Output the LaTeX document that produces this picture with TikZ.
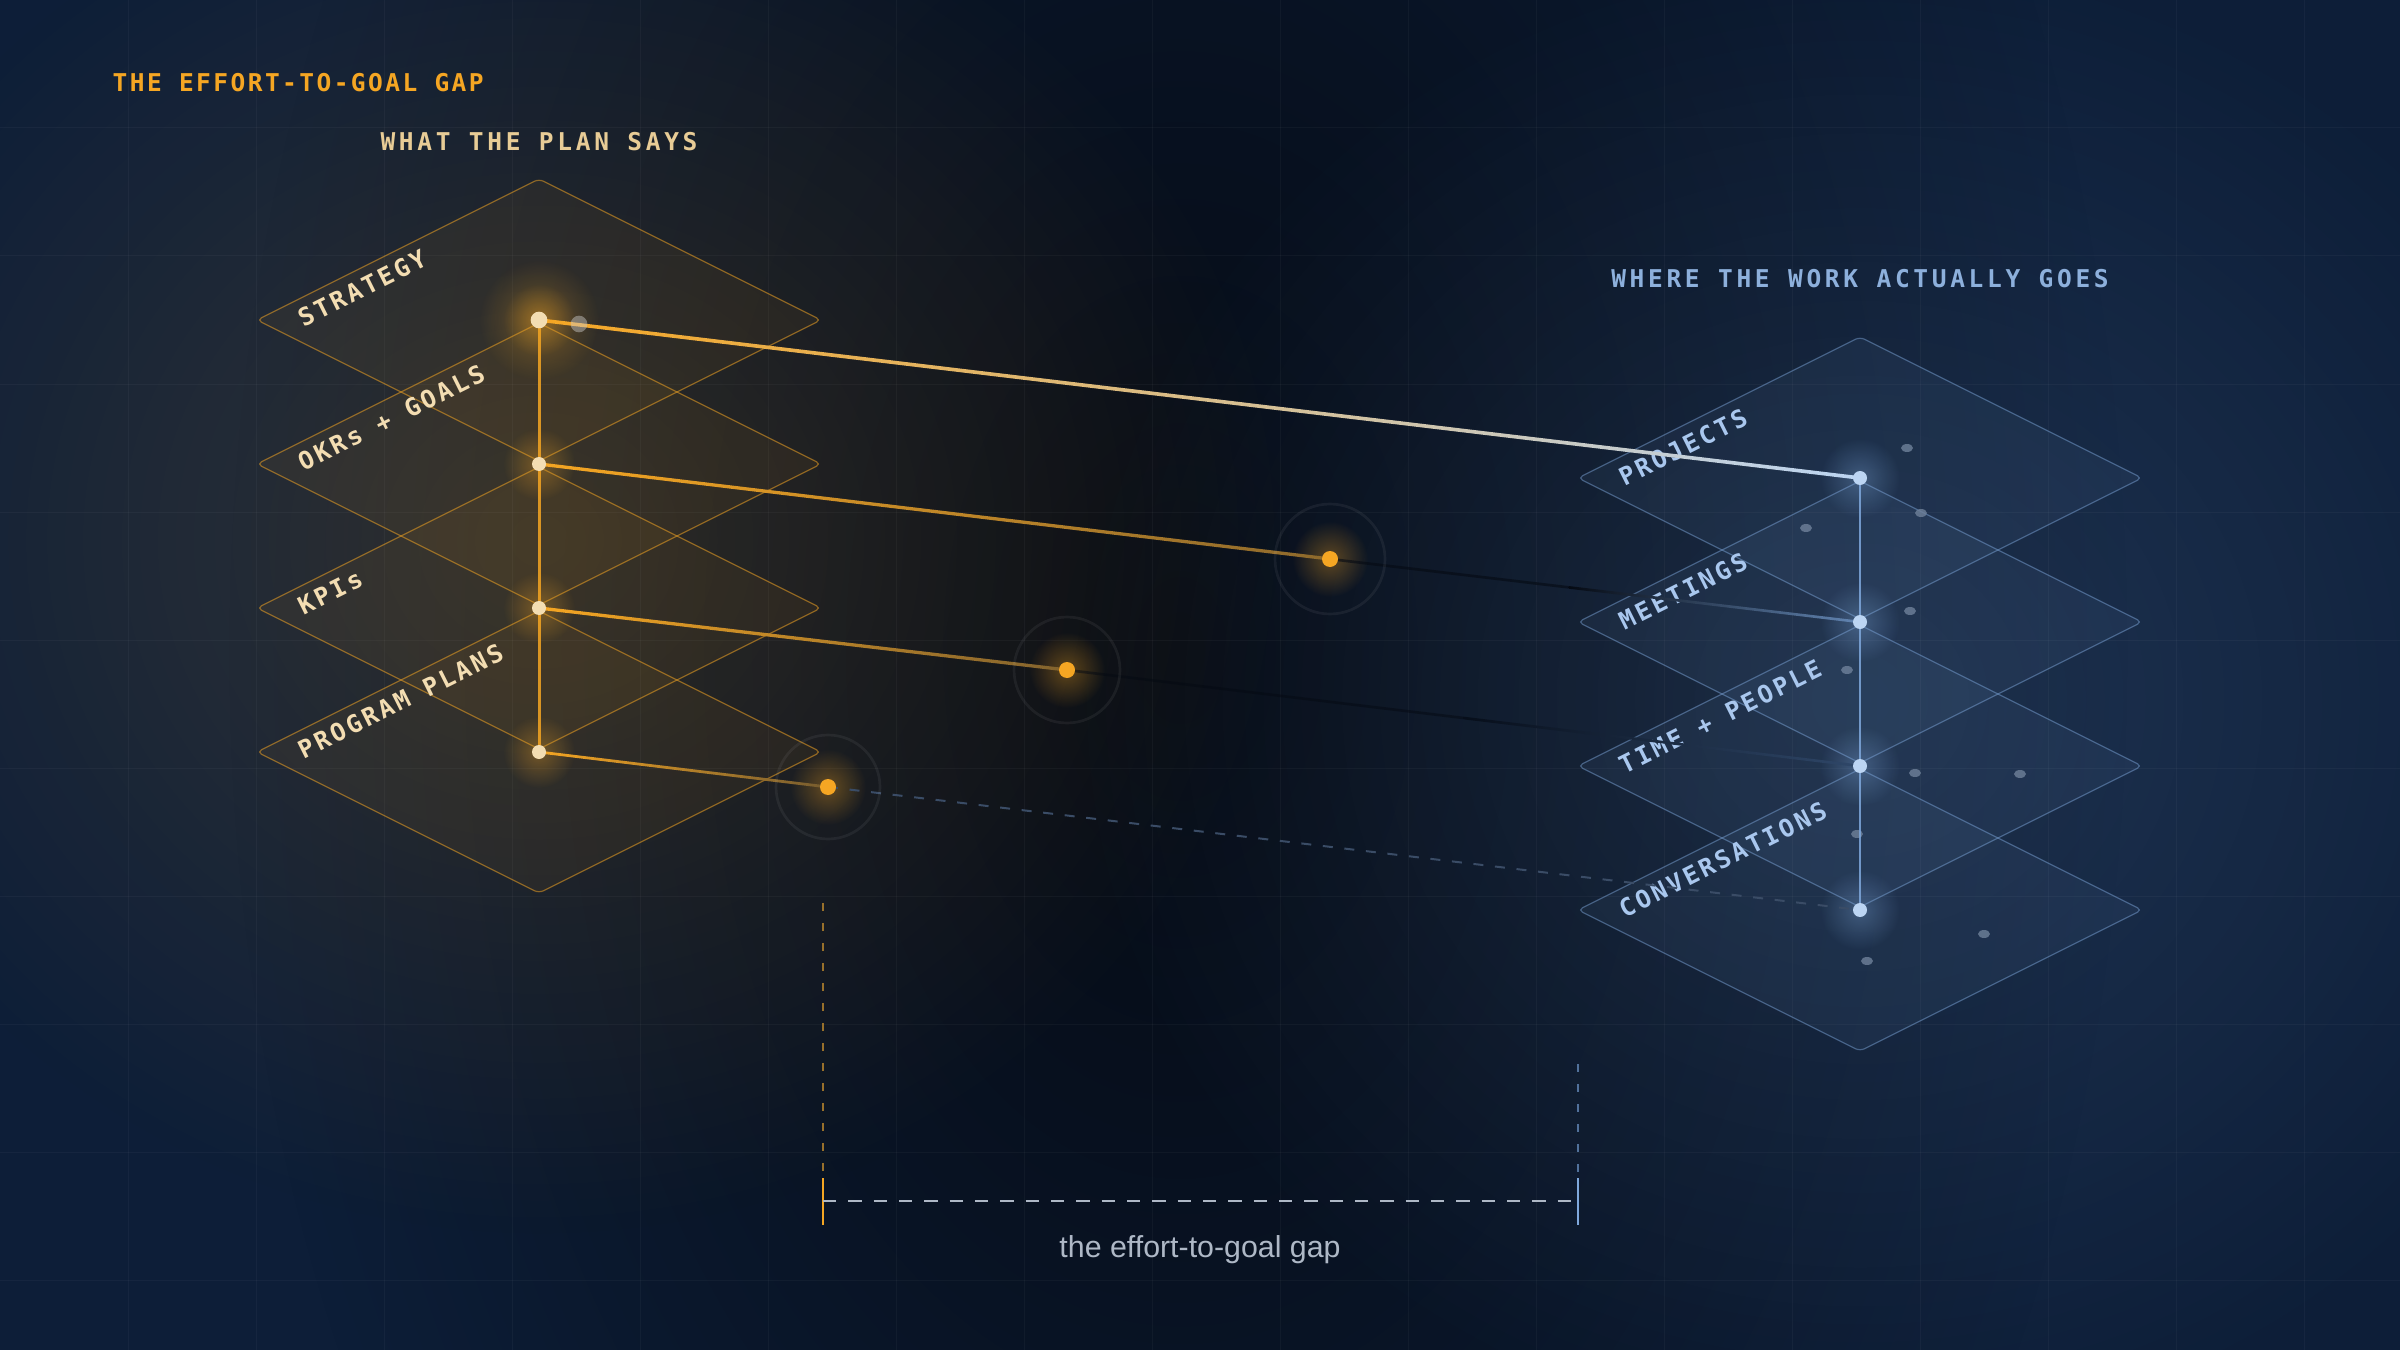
\documentclass[tikz,border=0pt]{standalone}
\usepackage{fontspec}
\usetikzlibrary{calc,fadings}

\newfontfamily\titlefont[LetterSpace=10]{DejaVu Sans Mono}
\newfontfamily\capsfont[LetterSpace=15]{DejaVu Sans Mono}
\newfontfamily\layerfont[LetterSpace=12]{DejaVu Sans Mono}
\newfontfamily\notefont{Liberation Sans}

\definecolor{bgnavy}{HTML}{0D1E38}
\definecolor{bgdeep}{HTML}{050A13}
\definecolor{amber}{HTML}{F5A623}
\definecolor{cream}{HTML}{F3DDB2}
\definecolor{sand}{HTML}{E8CC96}
\definecolor{steel}{HTML}{7FA8DC}
\definecolor{ice}{HTML}{BCD5F3}
\definecolor{mist}{HTML}{8DB0DC}
\definecolor{frost}{HTML}{A9C7EE}
\definecolor{fog}{HTML}{AEB8C6}
\definecolor{dusk}{HTML}{6F819A}
\definecolor{slate}{HTML}{3A4C66}

\tikzfading[name=glowfade, inner color=transparent!0, outer color=transparent!100]

\tikzset{
  grid line/.style={white, opacity=0.035, line width=0.3pt},
  plan plate/.style={draw=amber, draw opacity=0.5, fill=amber, fill opacity=0.06, line width=0.36pt, rounded corners=1.5pt},
  work plate/.style={draw=steel, draw opacity=0.45, fill=steel, fill opacity=0.07, line width=0.36pt, rounded corners=1.5pt},
  plan label/.style={font=\layerfont\bfseries\fontsize{7.4}{8}\selectfont, text=cream, rotate=26.57, anchor=base west, inner sep=0pt},
  work label/.style={font=\layerfont\bfseries\fontsize{7.4}{8}\selectfont, text=frost, rotate=26.57, anchor=base west, inner sep=0pt},
  head/.style={font=\capsfont\bfseries\fontsize{7.35}{8}\selectfont, inner sep=0pt},
  plan dot/.style={circle, fill=cream, inner sep=0pt, minimum size=4.2pt},
  work dot/.style={circle, fill=ice, inner sep=0pt, minimum size=4.2pt},
  drift dot/.style={circle, fill=amber, inner sep=0pt, minimum size=4.8pt},
  drift ring/.style={draw=white, draw opacity=0.06, line width=0.8pt},
  speck/.style={fill=dusk, fill opacity=0.8},
}

\begin{document}
\begin{tikzpicture}[x=0.3pt, y=-0.3pt]
  \useasboundingbox (0,0) rectangle (2400,1350);

  % backdrop
  \fill[bgnavy] (0,0) rectangle (2400,1350);
  \fill[bgdeep, path fading=glowfade] (1180,650) ellipse (950 and 1500);
  \fill[amber, opacity=0.16, path fading=glowfade] (539,540) ellipse (760 and 700);
  \fill[steel, opacity=0.16, path fading=glowfade] (1860,700) ellipse (800 and 760);
  \foreach \gx in {128,256,...,2304}
    {
      \draw[grid line] (\gx,0) -- (\gx,1350);
    }
  \foreach \gy in {128,256,...,1280}
    {
      \draw[grid line] (0,\gy) -- (2400,\gy);
    }

  % headings
  \node[head, font=\titlefont\bfseries\fontsize{7.35}{8}\selectfont, text=amber, anchor=west] (title) at (112,83) {THE EFFORT-TO-GOAL GAP};
  \node[head, text=sand] (plantitle) at (539,142) {WHAT THE PLAN SAYS};
  \node[head, text=mist] (worktitle) at (1860,279) {WHERE THE WORK ACTUALLY GOES};

  % the plan stack
  \foreach \y in {752,608,464,320}
    {
      \draw[plan plate] (539,\y) ++(-282,0) -- ++(282,-141) -- ++(282,141) -- ++(-282,141) -- cycle;
    }
  % the work stack
  \foreach \y in {910,766,622,478}
    {
      \draw[work plate] (1860,\y) ++(-282,0) -- ++(282,-141) -- ++(282,141) -- ++(-282,141) -- cycle;
    }

  \node[plan label] (l1) at (303,328) {STRATEGY};
  \node[plan label] (l2) at (303,472) {OKRs + GOALS};
  \node[plan label] (l3) at (303,616) {KPIs};
  \node[plan label] (l4) at (303,760) {PROGRAM PLANS};

  \node[work label] (r1) at (1624,487) {PROJECTS};
  \node[work label] (r2) at (1624,631) {MEETINGS};
  \node[work label] (r3) at (1624,775) {TIME + PEOPLE};
  \node[work label] (r4) at (1624,919) {CONVERSATIONS};

  % scattered work
  \foreach \px/\py in {1907/448,1921/513,1806/528,1910/611,1847/670,1915/773,2020/774,1857/834,1984/934,1867/961}
    {
      \fill[speck] (\px,\py) ellipse (6 and 4);
    }

  \coordinate (s1) at (539,320);
  \coordinate (s2) at (539,464);
  \coordinate (s3) at (539,608);
  \coordinate (s4) at (539,752);
  \coordinate (w1) at (1860,478);
  \coordinate (w2) at (1860,622);
  \coordinate (w3) at (1860,766);
  \coordinate (w4) at (1860,910);
  \coordinate (d2) at (1330,559);
  \coordinate (d3) at (1067,670);
  \coordinate (d4) at (828,787);

  % glows
  \foreach \c in {s1,s2,s3,s4}
    {
      \fill[amber, opacity=0.35, path fading=glowfade] (\c) circle (36);
    }
  \fill[amber, opacity=0.3, path fading=glowfade] (s1) circle (60);
  \foreach \c in {w1,w2,w3,w4}
    {
      \fill[steel, opacity=0.35, path fading=glowfade] (\c) circle (40);
    }
  \foreach \c in {d2,d3,d4}
    {
      \fill[amber, opacity=0.35, path fading=glowfade] (\c) circle (38);
    }

  % spines
  \draw[amber, opacity=0.85, line width=0.9pt] (s1) -- (s4);
  \draw[steel, opacity=0.85, line width=0.75pt] (w1) -- (w4);

  % strategy reaches projects
  \shade[left color=amber, right color=ice] ([yshift=-0.55pt]s1) -- ([yshift=-0.55pt]w1) -- ([yshift=0.55pt]w1) -- ([yshift=0.55pt]s1) -- cycle;

  % okrs drift to meetings
  \shade[left color=amber, right color=amber!55!bgnavy] ([yshift=-0.5pt]s2) -- ([yshift=-0.5pt]d2) -- ([yshift=0.5pt]d2) -- ([yshift=0.5pt]s2) -- cycle;
  \coordinate (m2) at ($(d2)!0.45!(w2)$);
  \draw[bgdeep, opacity=0.6, line width=0.8pt] (d2) -- (m2);
  \shade[left color=bgdeep, right color=steel!75!bgnavy] ([yshift=-0.4pt]m2) -- ([yshift=-0.4pt]w2) -- ([yshift=0.4pt]w2) -- ([yshift=0.4pt]m2) -- cycle;

  % kpis drift to time + people
  \shade[left color=amber, right color=amber!50!bgnavy] ([yshift=-0.5pt]s3) -- ([yshift=-0.5pt]d3) -- ([yshift=0.5pt]d3) -- ([yshift=0.5pt]s3) -- cycle;
  \coordinate (m3) at ($(d3)!0.5!(w3)$);
  \draw[bgdeep, opacity=0.5, line width=0.8pt] (d3) -- (m3);
  \shade[left color=bgdeep!80!bgnavy, right color=steel!30!bgnavy] ([yshift=-0.4pt]m3) -- ([yshift=-0.4pt]w3) -- ([yshift=0.4pt]w3) -- ([yshift=0.4pt]m3) -- cycle;

  % plans drift to conversations
  \shade[left color=amber, right color=amber!45!bgnavy] ([yshift=-0.42pt]s4) -- ([yshift=-0.42pt]d4) -- ([yshift=0.42pt]d4) -- ([yshift=0.42pt]s4) -- cycle;
  \draw[slate, line width=0.6pt, dash pattern=on 3pt off 3.5pt] (d4) -- (w4);

  % rings round the drift points
  \draw[drift ring] (d2) circle (55);
  \draw[drift ring] (d3) circle (53);
  \draw[drift ring] (d4) circle (52);

  % dots
  \node[plan dot, minimum size=5pt] (strategy) at (s1) {};
  \node[plan dot] (okrs) at (s2) {};
  \node[plan dot] (kpis) at (s3) {};
  \node[plan dot] (plans) at (s4) {};
  \node[circle, fill=white!60!gray, fill opacity=0.45, inner sep=0pt, minimum size=5pt] (glint) at (579,324) {};
  \node[work dot] (projects) at (w1) {};
  \node[work dot] (meetings) at (w2) {};
  \node[work dot] (timepeople) at (w3) {};
  \node[work dot] (conversations) at (w4) {};
  \node[drift dot] (drift2) at (d2) {};
  \node[drift dot] (drift3) at (d3) {};
  \node[drift dot] (drift4) at (d4) {};

  % the gap
  \coordinate (gl0) at (823,903);
  \coordinate (gl1) at (823,1178);
  \coordinate (gl2) at (823,1225);
  \coordinate (gr0) at (1578,1064);
  \coordinate (gr1) at (1578,1178);
  \coordinate (gr2) at (1578,1225);
  \coordinate (hl) at (823,1201);
  \coordinate (hr) at (1578,1201);
  \draw[amber!60!bgnavy, line width=0.4pt, dash pattern=on 2.4pt off 3.6pt] (gl0) -- (gl1);
  \draw[amber, line width=0.5pt] (gl1) -- (gl2);
  \draw[steel!60!bgnavy, line width=0.4pt, dash pattern=on 2.4pt off 3.6pt] (gr0) -- (gr1);
  \draw[steel, line width=0.5pt] (gr1) -- (gr2);
  \draw[fog, line width=0.5pt, dash pattern=on 4pt off 3.6pt] (hl) -- (hr);
  \node[font=\notefont\fontsize{9.1}{10}\selectfont, text=fog] (gaplabel) at (1200,1250) {the effort-to-goal gap};
\end{tikzpicture}
\end{document}
